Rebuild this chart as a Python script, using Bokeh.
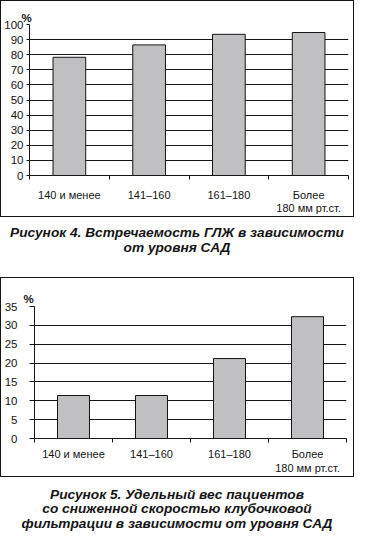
from bokeh.plotting import figure
from bokeh.models import Range1d, FixedTicker, Div
from bokeh.layouts import column
from bokeh.embed import file_html
from bokeh.resources import INLINE

# ---- data ----
categories = ["140 и менее", "141–160", "161–180", "Более\n180 мм рт.ст."]
lvh_pct = [78.3, 86.5, 93.5, 94.7]            # Рисунок 4
reduced_gfr_pct = [11.4, 11.4, 21.2, 32.3]     # Рисунок 5
y1_ticks = [0, 10, 20, 30, 40, 50, 60, 70, 80, 90, 100]
y2_ticks = [0, 5, 10, 15, 20, 25, 30, 35]
y_unit = "%"
caption1 = ["Рисунок 4. Встречаемость ГЛЖ в зависимости", "от уровня САД"]
caption2 = ["Рисунок 5. Удельный вес пациентов",
            "со сниженной скоростью клубочковой",
            "фильтрации в зависимости от уровня САД"]

FONT = "Liberation Sans"
INK = "#151515"
BAR = "#c0c0c2"


def make_chart(values, yticks, width, height, bl, br, bt, bb,
               x_standoff, x_lh, y_tick, y_standoff, pct_offset, pct_standoff):
    n = len(categories)
    centers = [i + 0.5 for i in range(n)]
    p = figure(width=width, height=height, x_range=Range1d(0, n),
               y_range=Range1d(yticks[0], yticks[-1]),
               output_backend="svg", toolbar_location=None,
               min_border_left=bl, min_border_right=br,
               min_border_top=bt, min_border_bottom=bb)
    p.outline_line_color = None
    p.background_fill_color = "white"
    p.border_fill_color = "white"

    p.vbar(x=centers, top=values, width=0.41, fill_color=BAR,
           line_color=INK, line_width=1)

    p.xgrid.visible = False
    p.ygrid.ticker = FixedTicker(ticks=yticks)
    p.ygrid.grid_line_color = INK
    p.ygrid.grid_line_width = 1

    ya = p.yaxis[0]
    ya.ticker = FixedTicker(ticks=yticks)
    ya.axis_line_color = INK
    ya.major_tick_line_color = INK
    ya.major_tick_out = y_tick
    ya.major_tick_in = 0
    ya.minor_tick_line_color = None
    ya.major_label_standoff = y_standoff
    ya.major_label_text_font = FONT
    ya.major_label_text_font_size = "11.5px"
    ya.major_label_text_color = INK

    xa = p.xaxis[0]
    xa.ticker = FixedTicker(ticks=centers, minor_ticks=list(range(n + 1)))
    xa.major_label_overrides = {c: lab for c, lab in zip(centers, categories)}
    xa.axis_line_color = INK
    xa.major_tick_line_color = None
    xa.major_tick_out = 0
    xa.major_tick_in = 0
    xa.minor_tick_line_color = INK
    xa.minor_tick_out = 4
    xa.minor_tick_in = 0
    xa.major_label_standoff = x_standoff
    xa.major_label_text_font = FONT
    xa.major_label_text_font_size = "11px"
    xa.major_label_text_line_height = x_lh
    xa.major_label_text_color = INK

    p.title.text = y_unit
    p.title.align = "left"
    p.title.offset = pct_offset
    p.title.standoff = pct_standoff
    p.title.text_font = FONT
    p.title.text_font_size = "11.5px"
    p.title.text_font_style = "bold"
    p.title.text_color = INK
    return p


def boxed(p):
    return column(p, spacing=0, margin=0, styles={"border": f"1px solid {INK}"})


def make_caption(lines, width, height, pad, lh):
    html = (f'<div style="padding-top:{pad}px;line-height:{lh}px;'
            f'text-align:center;width:{width}px">' + "<br>".join(lines) + "</div>")
    return Div(text=html, width=width, height=height, margin=0,
               styles={"font-family": FONT, "font-weight": "bold",
                       "font-style": "italic", "font-size": "13.7px",
                       "color": INK})


p1 = make_chart(lvh_pct, y1_ticks, 352, 215, 26, 5, 23, 34,
                9, 1.1, 3, 3, -8, 2)
d1 = make_caption(caption1, 354, 60, 7.5, 15)
p2 = make_chart(reduced_gfr_pct, y2_ticks, 352, 198, 30, 7, 28, 32,
                5, 1.2, 5, 12, -11, 3)
d2 = make_caption(caption2, 354, 55, 10.75, 14.5)

layout = column(boxed(p1), d1, boxed(p2), d2, spacing=0, margin=0)

open("out.html", "w").write(file_html(layout, INLINE))
